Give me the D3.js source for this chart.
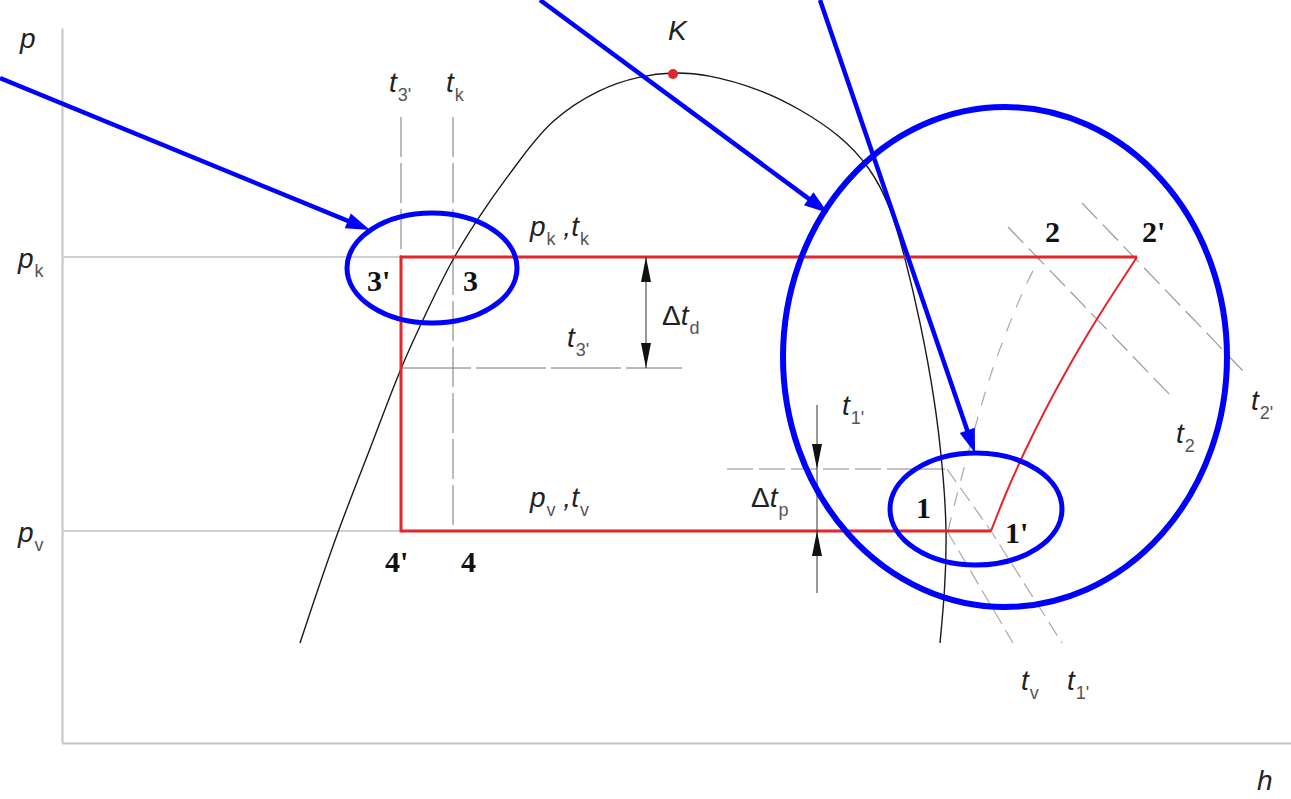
<!DOCTYPE html>
<html>
<head>
<meta charset="utf-8">
<script src="https://cdn.jsdelivr.net/npm/d3@7"></script>
<style>
  html, body { margin: 0; padding: 0; background: #fff; }
  svg { display: block; }
</style>
</head>
<body>
<script>
// p–h diagram of a vapour-compression cycle with subcooling and superheating.
// Coordinates are in diagram units: h (enthalpy) horizontally, p (pressure) vertically.

const hDomain = [0, 614.5];
const pDomain = [0, 357.5];

const pK = 243;          // condensing pressure
const pV = 106;          // evaporating pressure
const pT3 = 187.5;       // level of t3' in the liquid region
const pT1 = 137;         // level of t1' in the two-phase region

// saturation dome: liquid line up to the critical point K, then vapour line
const domeLiquid = [[119, 50], [137.5, 105.5], [154, 146.5], [169, 187.5], [184, 219], [195.5, 243],
  [214, 271.5], [229, 291.5], [244, 311.5], [269, 327.5], [289, 333.5], [305.5, 335.5]];
const domeVapour = [[305.5, 335.5], [322, 334.5], [349, 327], [369, 317], [389, 304], [404, 288],
  [414, 269], [421.5, 243], [429, 211.5], [436.5, 171.5], [440.5, 136.5], [442.5, 106], [441.5, 76.5], [439, 50]];
const criticalPoint = [305.5, 334.5];

// cycle state points
const hState3s = 169.5;   // 3' and 4'
const hState3 = 195.5;    // 3 and 4
const hState1s = 464.5;
const hState2s = 537.5;

// real compression 1' -> 2'
const compression = [[464.5, 106], [472.5, 126], [481.5, 146], [491.4, 166], [502.2, 186],
  [513.8, 206], [526.4, 226], [537.5, 243]];
// isentropic compression 1 -> 2
const isentrope12 = [[443, 106], [448, 126.5], [457.5, 161.5], [464, 184], [472.5, 206.5], [480.5, 226.5], [489, 243]];

// isotherms
const isoT2 = [[473, 258], [555.5, 172.5]];
const isoT2s = [[510, 270], [591.5, 185]];
const isoTv = [[442.5, 106], [475.5, 50]];
const isoT1Flat = [[332.5, pT1], [442.5, pT1]];
const isoT1Super = [[442.5, pT1], [464.5, 106], [500, 50]];
const isoT3Vert = [[hState3s, 313], [hState3s, pK]];
const isoTkVert = [[hState3, 313], [hState3, pV]];
const isoT3Flat = [[hState3s, pT3], [310, pT3]];

// dimension lines
const dimTd = { h: 292, top: pK, bottom: pT3 };
const dimTp = { h: 377.5, from: 169, to: 75, tipDown: pT1, tipUp: pV };

// highlight callouts
const calloutArrows = [
  [[-31, 332.5], [154, 256.5]],
  [[239, 371.5], [383, 265]],
  [[379, 371.5], [456.5, 145]]
];
const calloutRings = [
  { c: [185, 237.5], rx: 42.5, ry: 27.5, w: 5 },
  { c: [471.5, 193], rx: 111, ry: 125, w: 6 },
  { c: [457, 117], rx: 43, ry: 28, w: 5 }
];

// symbol labels: segments of [text, "m" italic | "u" upright | "s" subscript]
const symbolLabels = [
  { h: -21, p: 347.5, seg: [["p", "m"]] },
  { h: -22, p: 237.5, seg: [["p", "m"], ["k", "s"]] },
  { h: -22, p: 100.5, seg: [["p", "m"], ["v", "s"]] },
  { h: 597.5, p: -23.5, seg: [["h", "m"]] },
  { h: 303, p: 351.5, seg: [["K", "m"]] },
  { h: 163.5, p: 325.5, seg: [["t", "m"], ["3'", "s"]] },
  { h: 192, p: 325.5, seg: [["t", "m"], ["k", "s"]] },
  { h: 234, p: 253.5, seg: [["p", "m"], ["k", "s"], [" ,", "m"], ["t", "m"], ["k", "s"]] },
  { h: 234, p: 118, seg: [["p", "m"], ["v", "s"], [" ,", "m"], ["t", "m"], ["v", "s"]] },
  { h: 300, p: 209, seg: [["\u0394", "u"], ["t", "m"], ["d", "s"]] },
  { h: 252.5, p: 198, seg: [["t", "m"], ["3'", "s"]] },
  { h: 390, p: 164, seg: [["t", "m"], ["1'", "s"]] },
  { h: 344.5, p: 118, seg: [["\u0394", "u"], ["t", "m"], ["p", "s"]] },
  { h: 479.5, p: 26.5, seg: [["t", "m"], ["v", "s"]] },
  { h: 502.5, p: 26.5, seg: [["t", "m"], ["1'", "s"]] },
  { h: 557, p: 150, seg: [["t", "m"], ["2", "s"]] },
  { h: 594.5, p: 166.5, seg: [["t", "m"], ["2'", "s"]] }
];

// state point numbers
const stateLabels = [
  { t: "3'", h: 152.5, p: 226 },
  { t: "3", h: 200.5, p: 226 },
  { t: "4'", h: 161.5, p: 85.5 },
  { t: "4", h: 199.5, p: 85.5 },
  { t: "1", h: 427, p: 112.5 },
  { t: "1'", h: 471.5, p: 100 },
  { t: "2", h: 491.5, p: 250.5 },
  { t: "2'", h: 540, p: 250.5 }
];

const W = 1291, H = 799;
const x = d3.scaleLinear().domain(hDomain).range([62, 1291]);
const y = d3.scaleLinear().domain(pDomain).range([743, 28]);

const svg = d3.select("body").append("svg").attr("width", W).attr("height", H);
svg.append("rect").attr("width", W).attr("height", H).attr("fill", "#fff");

const line = d3.line().x(d => x(d[0])).y(d => y(d[1]));
const smooth = d3.line().x(d => x(d[0])).y(d => y(d[1])).curve(d3.curveBasis);
const through = d3.line().x(d => x(d[0])).y(d => y(d[1])).curve(d3.curveNatural);

// axes (no ticks)
svg.append("g").attr("transform", `translate(0,${y(0)})`)
  .call(d3.axisBottom(x).tickValues([]).tickSizeOuter(0))
  .call(g => g.select(".domain").attr("stroke", "#c4c4c4").attr("stroke-width", 2));
svg.append("g").attr("transform", `translate(${x(0)},0)`)
  .call(d3.axisLeft(y).tickValues([]).tickSizeOuter(0))
  .call(g => g.select(".domain").attr("stroke", "#c4c4c4").attr("stroke-width", 2));

// pressure guide lines
[pK, pV].forEach(p => {
  svg.append("path").attr("d", line([[0, p], [hState3s, p]]))
    .attr("stroke", "#cfcfcf").attr("stroke-width", 2).attr("fill", "none");
});

// dashed isotherms
const dashed = (pts, color, dash, width, curve) => svg.append("path")
  .attr("d", (curve ? smooth : line)(pts))
  .attr("fill", "none").attr("stroke", color).attr("stroke-width", width || 1.2)
  .attr("stroke-dasharray", dash);

dashed(isoT3Vert, "#777", "40,6", 1);
dashed(isoTkVert, "#777", "40,6", 1);
dashed(isoT3Flat, "#777", "70,5", 1);
dashed(isoT1Flat, "#888", "26,6", 1);
dashed(isoT1Super, "#aaa", "16,7", 1.2);
dashed(isoTv, "#aaa", "16,7", 1.2);
dashed(isoT2, "#999", "22,8", 1.2);
dashed(isoT2s, "#999", "22,8", 1.2);
dashed(isentrope12, "#aaa", "14,12", 1.2, true);

// saturation dome
svg.append("path").attr("d", smooth(domeLiquid.concat(domeVapour.slice(1))))
  .attr("fill", "none").attr("stroke", "#1a1a1a").attr("stroke-width", 1.4);

// the cycle
const red = "#e2262b";
svg.append("path")
  .attr("d", line([[hState1s, pV], [hState3s, pV], [hState3s, pK], [hState2s, pK]]))
  .attr("fill", "none").attr("stroke", red).attr("stroke-width", 3).attr("stroke-linejoin", "miter");
svg.append("path").attr("d", through(compression))
  .attr("fill", "none").attr("stroke", red).attr("stroke-width", 2);

// critical point
svg.append("circle").attr("cx", x(criticalPoint[0])).attr("cy", y(criticalPoint[1]))
  .attr("r", 5).attr("fill", red);

// dimension arrows
function head(tip, dir, len, half, color) {
  const [tx, ty] = tip, [dx, dy] = dir;
  const bx = tx - dx * len, by = ty - dy * len;
  const nx = -dy, ny = dx;
  svg.append("path")
    .attr("d", `M${tx},${ty}L${bx + nx * half},${by + ny * half}L${bx - nx * half},${by - ny * half}Z`)
    .attr("fill", color);
}
svg.append("path").attr("d", line([[dimTd.h, dimTd.top], [dimTd.h, dimTd.bottom]]))
  .attr("stroke", "#333").attr("stroke-width", 1);
head([x(dimTd.h), y(dimTd.top)], [0, -1], 25, 5, "#111");
head([x(dimTd.h), y(dimTd.bottom)], [0, 1], 25, 5, "#111");

svg.append("path").attr("d", line([[dimTp.h, dimTp.from], [dimTp.h, dimTp.to]]))
  .attr("stroke", "#333").attr("stroke-width", 1);
head([x(dimTp.h), y(dimTp.tipDown)], [0, 1], 25, 5, "#111");
head([x(dimTp.h), y(dimTp.tipUp)], [0, -1], 25, 5, "#111");

// state numbers
svg.selectAll("text.state").data(stateLabels).join("text")
  .attr("class", "state")
  .attr("x", d => x(d.h)).attr("y", d => y(d.p))
  .attr("font-family", "'Liberation Serif', 'Times New Roman', serif")
  .attr("font-weight", "bold").attr("font-size", 30).attr("fill", "#111")
  .text(d => d.t);

// symbol labels
symbolLabels.forEach(l => {
  const t = svg.append("text").attr("x", x(l.h)).attr("y", y(l.p))
    .attr("font-family", "'Liberation Sans', Arial, sans-serif").attr("fill", "#222");
  let shifted = false;
  l.seg.forEach(([s, kind]) => {
    const ts = t.append("tspan").text(s);
    if (kind === "s") {
      ts.attr("font-size", 18).attr("font-style", "normal").attr("fill", "#555")
        .attr("dx", 1).attr("dy", shifted ? 0 : 9);
      shifted = true;
    } else {
      ts.attr("font-size", 28).attr("font-style", kind === "u" ? "normal" : "italic")
        .attr("dy", shifted ? -9 : 0);
      shifted = false;
    }
  });
});

// callouts
const blue = "#0000ff";
calloutRings.forEach(r => {
  svg.append("ellipse")
    .attr("cx", x(r.c[0])).attr("cy", y(r.c[1]))
    .attr("rx", x(r.c[0] + r.rx) - x(r.c[0]))
    .attr("ry", y(r.c[1] - r.ry) - y(r.c[1]))
    .attr("fill", "none").attr("stroke", blue).attr("stroke-width", r.w);
});
calloutArrows.forEach(([a, b]) => {
  const x0 = x(a[0]), y0 = y(a[1]), x1 = x(b[0]), y1 = y(b[1]);
  const L = Math.hypot(x1 - x0, y1 - y0), ux = (x1 - x0) / L, uy = (y1 - y0) / L;
  svg.append("line").attr("x1", x0).attr("y1", y0)
    .attr("x2", x1 - ux * 14).attr("y2", y1 - uy * 14)
    .attr("stroke", blue).attr("stroke-width", 4.5);
  head([x1, y1], [ux, uy], 24, 8, blue);
});
</script>
</body>
</html>
